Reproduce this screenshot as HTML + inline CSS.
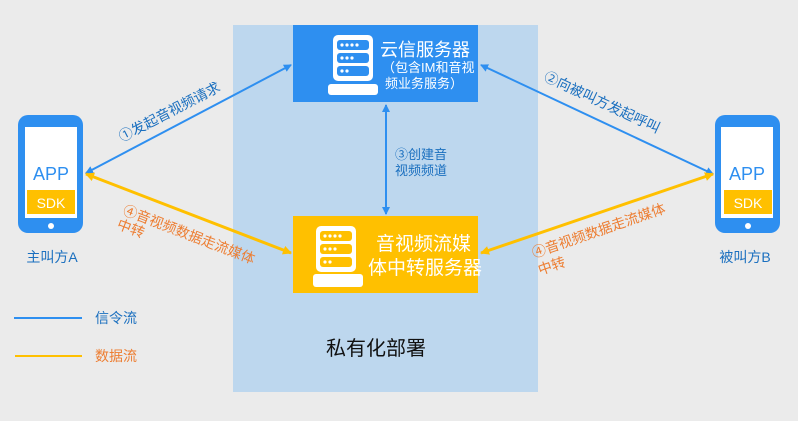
<!DOCTYPE html>
<html><head><meta charset="utf-8"><style>
html,body{margin:0;padding:0;background:#ebebeb;}
svg{display:block;}
text{font-family:"Liberation Sans","Noto Sans CJK SC",sans-serif;}
</style></head><body>
<svg width="798" height="421" viewBox="0 0 798 421" xmlns="http://www.w3.org/2000/svg">
<defs>
<marker id="mb" markerWidth="8" markerHeight="8" refX="7" refY="4" orient="auto-start-reverse" markerUnits="userSpaceOnUse"><path d="M0,0 L8,4 L0,8 z" fill="#2e8ff0"/></marker>
<marker id="my" markerWidth="9" markerHeight="9" refX="8" refY="4.5" orient="auto-start-reverse" markerUnits="userSpaceOnUse"><path d="M0,0 L9,4.5 L0,9 z" fill="#ffc000"/></marker>
<g id="rack">
<rect x="0" y="0" width="40" height="46" rx="5" fill="#fff"/>
<rect x="4" y="5" width="32" height="10" rx="3" fill="currentColor"/>
<rect x="4" y="18" width="32" height="10" rx="3" fill="currentColor"/>
<rect x="4" y="31" width="32" height="10" rx="3" fill="currentColor"/>
</g>
</defs>
<rect x="233" y="25" width="305" height="367" fill="#bdd7ee"/>
<rect x="293" y="25" width="185" height="77" fill="#2e8ff0"/>
<g transform="translate(333,35)" color="#2e8ff0"><use href="#rack"/>
<g fill="#fff"><circle cx="9" cy="10" r="1.6"/><circle cx="14" cy="10" r="1.6"/><circle cx="19" cy="10" r="1.6"/><circle cx="24" cy="10" r="1.6"/><circle cx="9" cy="23" r="1.6"/><circle cx="14" cy="23" r="1.6"/><circle cx="19" cy="23" r="1.6"/><circle cx="9" cy="36" r="1.6"/><circle cx="14" cy="36" r="1.6"/></g></g>
<rect x="328" y="84" width="50" height="11" rx="3" fill="#fff"/>
<text x="380" y="56" font-size="18" fill="#fff">云信服务器</text>
<text x="382" y="72" font-size="13" fill="#fff">（包含IM和音视</text>
<text x="385" y="88" font-size="13" fill="#fff">频业务服务）</text>
<rect x="293" y="216" width="185" height="77" fill="#ffc000"/>
<g transform="translate(316,226)" color="#ffc000"><use href="#rack"/>
<g fill="#fff"><circle cx="9" cy="10" r="1.6"/><circle cx="14" cy="10" r="1.6"/><circle cx="19" cy="10" r="1.6"/><circle cx="24" cy="10" r="1.6"/><circle cx="9" cy="23" r="1.6"/><circle cx="14" cy="23" r="1.6"/><circle cx="19" cy="23" r="1.6"/><circle cx="9" cy="36" r="1.6"/><circle cx="14" cy="36" r="1.6"/></g></g>
<rect x="313" y="274" width="50" height="13" rx="3" fill="#fff"/>
<text x="376" y="250" font-size="19" fill="#fff">音视频流媒</text>
<text x="368" y="274" font-size="19" fill="#fff">体中转服务器</text>
<g>
<rect x="18" y="115" width="65" height="118" rx="10" fill="#2e8ff0"/>
<rect x="25" y="127" width="52" height="91" fill="#fff"/>
<text x="51" y="180" font-size="18" fill="#2e8ff0" text-anchor="middle">APP</text>
<rect x="27" y="190" width="48" height="24" fill="#ffc000"/>
<text x="51" y="208" font-size="14" fill="#fff" text-anchor="middle">SDK</text>
<circle cx="51" cy="226" r="3" fill="#fff"/>
<text x="52" y="262" font-size="14" fill="#1a6fbf" text-anchor="middle">主叫方A</text>
</g>
<g>
<rect x="715" y="115" width="65" height="118" rx="10" fill="#2e8ff0"/>
<rect x="721" y="127" width="52" height="91" fill="#fff"/>
<text x="747" y="180" font-size="18" fill="#2e8ff0" text-anchor="middle">APP</text>
<rect x="724" y="190" width="48" height="24" fill="#ffc000"/>
<text x="748" y="208" font-size="14" fill="#fff" text-anchor="middle">SDK</text>
<circle cx="748" cy="226" r="3" fill="#fff"/>
<text x="745" y="262" font-size="14" fill="#1a6fbf" text-anchor="middle">被叫方B</text>
</g>
<line x1="86" y1="173" x2="291" y2="65" stroke="#2e8ff0" stroke-width="2" marker-start="url(#mb)" marker-end="url(#mb)"/>
<line x1="481" y1="65" x2="713" y2="174" stroke="#2e8ff0" stroke-width="2" marker-start="url(#mb)" marker-end="url(#mb)"/>
<line x1="386" y1="105" x2="386" y2="214" stroke="#2e8ff0" stroke-width="2" marker-start="url(#mb)" marker-end="url(#mb)"/>
<line x1="86" y1="174" x2="291" y2="253" stroke="#ffc000" stroke-width="3" marker-start="url(#my)" marker-end="url(#my)"/>
<line x1="481" y1="253" x2="713" y2="174" stroke="#ffc000" stroke-width="3" marker-start="url(#my)" marker-end="url(#my)"/>
<text transform="translate(122,142) rotate(-27.5)" font-size="14" fill="#1a6fbf">①发起音视频请求</text>
<text transform="translate(543,80) rotate(25)" font-size="14" fill="#1a6fbf">②向被叫方发起呼叫</text>
<text x="395" y="159" font-size="13" fill="#1a6fbf">③创建音</text>
<text x="395" y="175" font-size="13" fill="#1a6fbf">视频频道</text>
<text transform="translate(122,214) rotate(21)" font-size="14" fill="#ed7d31">④音视频数据走流媒体</text>
<text transform="translate(116,228) rotate(21)" font-size="14" fill="#ed7d31">中转</text>
<text transform="translate(534,258) rotate(-19)" font-size="14" fill="#ed7d31">④音视频数据走流媒体</text>
<text transform="translate(540,275) rotate(-19)" font-size="14" fill="#ed7d31">中转</text>
<line x1="14" y1="318" x2="82" y2="318" stroke="#2e8ff0" stroke-width="2"/>
<text x="95" y="323" font-size="14" fill="#1a6fbf">信令流</text>
<line x1="15" y1="356" x2="82" y2="356" stroke="#ffc000" stroke-width="2"/>
<text x="95" y="361" font-size="14" fill="#ed7d31">数据流</text>
<text x="326" y="355" font-size="20" fill="#111">私有化部署</text>
</svg>
</body></html>
